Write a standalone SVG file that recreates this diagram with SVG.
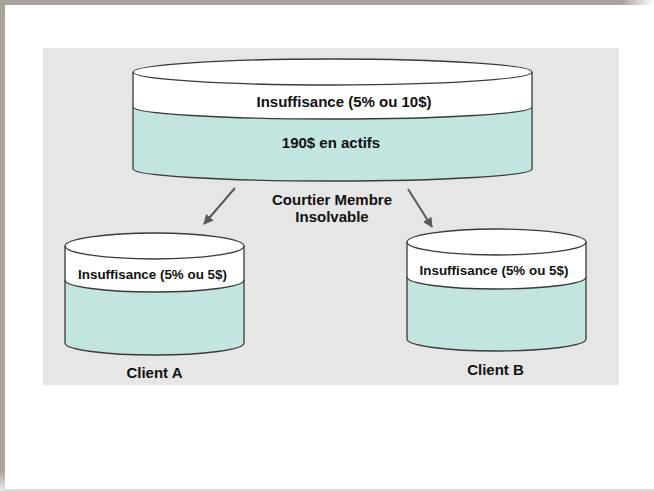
<svg xmlns="http://www.w3.org/2000/svg" width="654" height="491" viewBox="0 0 654 491">
<style>
.white{fill:#ffffff;stroke:none}
.teal{fill:#c3e5df;stroke:none}
.edge{fill:none;stroke:#3a3a3a;stroke-width:1.3}
.lbl{font-family:"Liberation Sans",Arial,sans-serif;font-weight:bold;fill:#111;text-anchor:middle}
.conn{stroke:#595959;stroke-width:2;fill:none}
</style>
<defs>
<linearGradient id="topfade" x1="0" y1="0" x2="1" y2="0">
<stop offset="0" stop-color="#a9a39e"/>
<stop offset="0.95" stop-color="#a9a39e"/>
<stop offset="1" stop-color="#a9a39e" stop-opacity="0"/>
</linearGradient>
<linearGradient id="leftfade" x1="0" y1="0" x2="0" y2="1">
<stop offset="0" stop-color="#a9a39e"/>
<stop offset="0.96" stop-color="#a9a39e"/>
<stop offset="1" stop-color="#a9a39e" stop-opacity="0.2"/>
</linearGradient>
<marker id="ah" viewBox="0 0 10 10" refX="9" refY="5" markerWidth="5" markerHeight="5" orient="auto" markerUnits="strokeWidth">
<path d="M0,0 L10,5 L0,10 Z" fill="#595959"/>
</marker>
</defs>
<rect x="0" y="0" width="654" height="491" fill="#ffffff"/>
<rect x="0" y="0" width="654" height="5" fill="url(#topfade)"/>
<rect x="0" y="0" width="5" height="491" fill="url(#leftfade)"/>
<rect x="5" y="489" width="649" height="2" fill="#e2ded9"/>
<rect x="43" y="48" width="576" height="337" fill="#e6e6e6"/>

<g id="courtier">
<path class="teal" d="M133,107 A199.5,12 0 0 0 532,107 V169 A199.5,12 0 0 1 133,169 Z"/>
<path class="white" d="M133,72 V107 A199.5,12 0 0 0 532,107 V72 Z"/>
<ellipse class="white" cx="332.5" cy="72" rx="199.5" ry="13"/>
<ellipse class="edge" cx="332.5" cy="72" rx="199.5" ry="13"/>
<path class="edge" d="M133,72 V169 A199.5,12 0 0 0 532,169 V72"/>
<path class="edge" d="M133,107 A199.5,12 0 0 0 532,107"/>
<text class="lbl" x="344" y="107" font-size="15">Insuffisance (5% ou 10$)</text>
<text class="lbl" x="331" y="148" font-size="15">190$ en actifs</text>
<text class="lbl" x="332" y="205" font-size="15">Courtier Membre</text>
<text class="lbl" x="332" y="222" font-size="15">Insolvable</text>
</g>

<g id="clientA">
<path class="teal" d="M65,280 A89.5,12 0 0 0 244,280 V343 A89.5,12 0 0 1 65,343 Z"/>
<path class="white" d="M65,246 V280 A89.5,12 0 0 0 244,280 V246 Z"/>
<ellipse class="white" cx="154.5" cy="246" rx="89.5" ry="13"/>
<ellipse class="edge" cx="154.5" cy="246" rx="89.5" ry="13"/>
<path class="edge" d="M65,246 V343 A89.5,12 0 0 0 244,343 V246"/>
<path class="edge" d="M65,280 A89.5,12 0 0 0 244,280"/>
<text class="lbl" x="152.5" y="279" font-size="13.4">Insuffisance (5% ou 5$)</text>
<text class="lbl" x="154.5" y="378" font-size="15">Client A</text>
</g>

<g id="clientB">
<path class="teal" d="M407,277 A89.5,12 0 0 0 586,277 V339 A89.5,12 0 0 1 407,339 Z"/>
<path class="white" d="M407,242 V277 A89.5,12 0 0 0 586,277 V242 Z"/>
<ellipse class="white" cx="496.5" cy="242" rx="89.5" ry="13"/>
<ellipse class="edge" cx="496.5" cy="242" rx="89.5" ry="13"/>
<path class="edge" d="M407,242 V339 A89.5,12 0 0 0 586,339 V242"/>
<path class="edge" d="M407,277 A89.5,12 0 0 0 586,277"/>
<text class="lbl" x="494" y="275" font-size="13.4">Insuffisance (5% ou 5$)</text>
<text class="lbl" x="495.5" y="375" font-size="15">Client B</text>
</g>

<g id="connectors">
<line class="conn" x1="235" y1="188" x2="204" y2="224" marker-end="url(#ah)"/>
<line class="conn" x1="408" y1="189" x2="432" y2="227" marker-end="url(#ah)"/>
</g>
</svg>
